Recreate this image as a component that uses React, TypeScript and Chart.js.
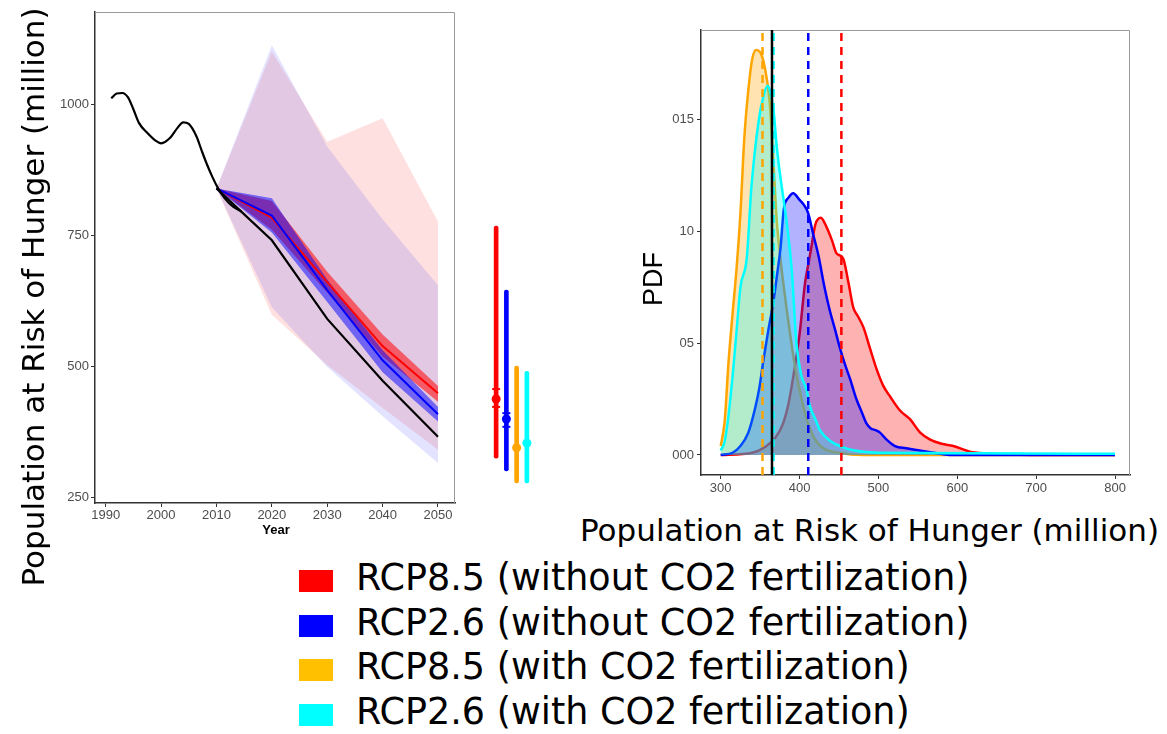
import React, { useEffect, useRef } from "react";
import { Chart, registerables } from "chart.js";

Chart.register(...registerables);

// ---------- Left panel: population at risk of hunger over time ----------
const yearTicks = [1990, 2000, 2010, 2020, 2030, 2040, 2050];
const popTicks = [250, 500, 750, 1000];

const histYears = [1991, 1992, 1993, 1994, 1995, 1996, 1997.5, 1999, 2000, 2001.6, 2003, 2004, 2005, 2006.4, 2007.3, 2008.2, 2009.3, 2010.3, 2011.5, 2013, 2014.5];
const histValues = [1011, 1020, 1021, 1013, 990, 964, 945, 930, 925, 935, 955, 965, 962, 938, 912, 887, 860, 839, 820, 804, 795];

const projYears = [2010, 2020, 2030, 2040, 2050];
const baselineProj = [839, 740, 590, 472, 365];

// wide ranges (all models)
const rcp85WideHi = [839, 1100, 928, 973, 776];
const rcp85WideLo = [839, 598, 502, 420, 340];
const rcp26WideHi = [839, 1112, 919, 780, 654];
const rcp26WideLo = [839, 612, 498, 404, 315];

// narrow ranges and medians
const rcp85Hi = [839, 815, 680, 560, 462];
const rcp85Lo = [839, 760, 640, 518, 432];
const rcp85Mid = [839, 783, 660, 538, 448];
const rcp26Hi = [839, 820, 665, 530, 422];
const rcp26Lo = [839, 755, 622, 488, 394];
const rcp26Mid = [839, 787, 645, 511, 408];

// ---------- 2050 ranges beside the left panel ----------
const errLabels = ["RCP8.5 no CO2", "RCP2.6 no CO2", "RCP8.5 CO2", "RCP2.6 CO2"];
const errRanges: [number, number][] = [[324, 767], [300, 645], [277, 500], [277, 490]];
const errMeans = [437, 399, 344, 353];
const errInnerLo = [422, 384, null, null];
const errInnerHi = [456, 410, null, null];
const errColors = ["#ff0000", "#0000ff", "#ffa500", "#00ffff"];

// ---------- Right panel: PDFs of 2050 population at risk ----------
const pdfXTicks = [300, 400, 500, 600, 700, 800];
const pdfYTicks = [0, 0.005, 0.01, 0.015];
const pdfYTickLabels = ["000", "05", "10", "015"];

const pdfRed: [number, number][] = [
  [300, 0], [340, 0.0001], [358, 0.0004], [370, 0.0008], [379, 0.0014], [386, 0.0023], [392, 0.0035],
  [400, 0.0054], [407, 0.0077], [411, 0.0085], [415, 0.0093], [420, 0.0103], [427, 0.0106], [434, 0.0102],
  [441, 0.0096], [447, 0.009], [455, 0.0088], [462, 0.0077], [468, 0.0066], [474, 0.0062], [481, 0.0057],
  [489, 0.0048], [498, 0.0038], [506, 0.0031], [515, 0.0026], [527, 0.002], [540, 0.0016], [553, 0.001],
  [565, 0.0007], [580, 0.0005], [595, 0.0004], [616, 0.00015], [637, 0.00007], [670, 0.00002], [700, 0], [800, 0],
];
const pdfOrange: [number, number][] = [
  [300, 0.0004], [305, 0.0015], [310, 0.0042], [315, 0.0063], [320, 0.0083], [325, 0.0108], [330, 0.0142],
  [335, 0.0163], [340, 0.0177], [345, 0.0181], [350, 0.018], [356, 0.0173], [362, 0.0158], [367, 0.013],
  [371, 0.0105], [375, 0.009], [380, 0.0075], [388, 0.0054], [394, 0.004], [400, 0.0029], [409, 0.0016],
  [418, 0.0008], [430, 0.0003], [450, 0.0001], [480, 0], [800, 0],
];
const pdfBlue: [number, number][] = [
  [300, 0], [315, 0.0001], [325, 0.0004], [335, 0.001], [343, 0.002], [349, 0.003], [354, 0.0042],
  [360, 0.0055], [367, 0.0069], [372, 0.0082], [376, 0.0093], [380, 0.011], [386, 0.0115], [392, 0.0117],
  [400, 0.0114], [405, 0.0112], [411, 0.0108], [417, 0.0099], [424, 0.0089], [431, 0.0076], [438, 0.0065],
  [445, 0.0056], [451, 0.0048], [458, 0.004], [464, 0.0034], [472, 0.0025], [479, 0.0019], [485, 0.0014],
  [490, 0.0012], [497, 0.0011], [502, 0.001], [510, 0.0007], [521, 0.0004], [535, 0.0003], [552, 0.0002],
  [570, 0.0001], [590, 0], [800, 0],
];
const pdfCyan: [number, number][] = [
  [300, 0.0002], [305, 0.0006], [310, 0.0018], [315, 0.0035], [320, 0.0055], [325, 0.0075], [333, 0.0088],
  [339, 0.012], [348, 0.0149], [354, 0.016], [359.5, 0.0165], [363, 0.0162], [367, 0.0154], [371, 0.0138],
  [375, 0.0126], [384, 0.0103], [390, 0.0083], [396, 0.005], [402, 0.0036], [409, 0.0029], [413, 0.0022],
  [420, 0.0016], [426, 0.0011], [440, 0.0006], [451, 0.0004], [470, 0.0002], [500, 0.0001], [800, 0.00005],
];

const meanRed = 453;
const meanBlue = 411;
const meanOrange = 353;
const meanCyan = 367;
const currentLevel = 365;

const PDF_MIN = -0.000894;
const PDF_MAX = 0.01899;
const POP_MIN = 238.6;
const POP_MAX = 1175.6;

const tickFont = { family: "'Liberation Sans', Arial, sans-serif", size: 13 };
const tickColor = "#4d4d4d";

const zip = (xs: number[], ys: number[]) => xs.map((x, i) => ({ x, y: ys[i] }));
const pairs = (pts: [number, number][]) => pts.map(([x, y]) => ({ x, y }));

// grey panel border on top and right, drawn under the data
const panelFrame = {
  id: "panelFrame",
  beforeDatasetsDraw(chart: any) {
    const { ctx, chartArea: a } = chart;
    ctx.save();
    ctx.strokeStyle = "#9a9a9a";
    ctx.lineWidth = 1;
    ctx.beginPath();
    ctx.moveTo(a.left, a.top + 0.5);
    ctx.lineTo(a.right - 0.5, a.top + 0.5);
    ctx.lineTo(a.right - 0.5, a.bottom);
    ctx.stroke();
    ctx.restore();
  },
};

function band(hi: number[], lo: number[], color: string, order: number) {
  return [
    { data: zip(projYears, hi), borderWidth: 0, backgroundColor: color, fill: "+1", tension: 0, order },
    { data: zip(projYears, lo), borderWidth: 0, fill: false, tension: 0, order },
  ];
}

function line(xs: number[], ys: number[], color: string, width: number, order: number, smooth = false) {
  return {
    data: zip(xs, ys),
    borderColor: color,
    borderWidth: width,
    fill: false,
    ...(smooth ? { cubicInterpolationMode: "monotone" } : { tension: 0 }),
    order,
  };
}

function vline(x: number, color: string, dashed: boolean, order: number) {
  return {
    data: [{ x, y: PDF_MIN }, { x, y: PDF_MAX }],
    borderColor: color,
    borderWidth: 2.5,
    borderDash: dashed ? [8, 6] : [],
    fill: false,
    order,
  };
}

function pdfSeries(pts: [number, number][], lineColor: string, fillColor: string, order: number) {
  return {
    data: pairs(pts),
    borderColor: lineColor,
    backgroundColor: fillColor,
    borderWidth: 2.5,
    fill: "origin",
    cubicInterpolationMode: "monotone",
    order,
  };
}

export default function App() {
  const leftRef = useRef<HTMLCanvasElement>(null);
  const errRef = useRef<HTMLCanvasElement>(null);
  const pdfRef = useRef<HTMLCanvasElement>(null);

  useEffect(() => {
    const common = {
      animation: false,
      responsive: false,
      plugins: { legend: { display: false }, tooltip: { enabled: false } },
      elements: { point: { radius: 0 } },
    };

    const left = new Chart(leftRef.current!, {
      type: "line",
      data: {
        datasets: [
          ...band(rcp85WideHi, rcp85WideLo, "rgba(255,0,0,0.12)", 10),
          ...band(rcp26WideHi, rcp26WideLo, "rgba(0,0,255,0.11)", 9),
          ...band(rcp85Hi, rcp85Lo, "rgba(255,0,0,0.55)", 8),
          ...band(rcp26Hi, rcp26Lo, "rgba(0,0,255,0.5)", 7),
          line(projYears, rcp85Mid, "#ff0000", 2, 6),
          line(projYears, rcp26Mid, "#0000ff", 2, 5),
          line(histYears, histValues, "#000", 2.2, 1, true),
          line(projYears, baselineProj, "#000", 2.2, 1),
        ] as any,
      },
      options: {
        ...common,
        layout: { padding: { top: 12, right: 15, left: 0, bottom: 0 } },
        scales: {
          x: {
            type: "linear",
            min: 1988.07,
            max: 2053.07,
            afterBuildTicks: (s: any) => { s.ticks = yearTicks.map((v) => ({ value: v })); },
            afterFit: (s: any) => { s.height = 47; },
            ticks: { font: tickFont, color: tickColor, padding: 1, maxRotation: 0, autoSkip: false, callback: (v: any) => String(v) },
            grid: { drawOnChartArea: false, tickLength: 4, color: "#333" },
            border: { color: "#333", width: 1.5 },
          },
          y: {
            type: "linear",
            min: POP_MIN,
            max: POP_MAX,
            afterBuildTicks: (s: any) => { s.ticks = popTicks.map((v) => ({ value: v })); },
            afterFit: (s: any) => { s.width = 45; },
            ticks: { font: tickFont, color: tickColor, padding: 2, autoSkip: false, callback: (v: any) => String(v) },
            grid: { drawOnChartArea: false, tickLength: 4, color: "#333" },
            border: { color: "#333", width: 1.5 },
          },
        },
      } as any,
      plugins: [panelFrame],
    });

    const err = new Chart(errRef.current!, {
      type: "bar",
      data: {
        labels: errLabels,
        datasets: [
          { type: "line", data: errMeans, showLine: false, pointRadius: 4.5, pointBackgroundColor: errColors, pointBorderWidth: 0, order: 0 },
          { type: "line", data: errInnerHi, showLine: false, pointStyle: "line", pointRadius: 4, pointBorderColor: errColors, pointBorderWidth: 2, order: 1 },
          { type: "line", data: errInnerLo, showLine: false, pointStyle: "line", pointRadius: 4, pointBorderColor: errColors, pointBorderWidth: 2, order: 1 },
          { type: "bar", data: errRanges, backgroundColor: errColors, barThickness: 4, borderRadius: 2, borderSkipped: false, order: 2 },
        ] as any,
      },
      options: {
        ...common,
        layout: { padding: { top: 12, bottom: 47, left: 0, right: 0 } },
        scales: {
          x: { display: false },
          y: { display: false, min: POP_MIN, max: POP_MAX },
        },
      } as any,
    });

    const pdf = new Chart(pdfRef.current!, {
      type: "line",
      data: {
        datasets: [
          pdfSeries(pdfRed, "#ff0000", "rgba(255,0,0,0.3)", 5),
          pdfSeries(pdfOrange, "#ffa500", "rgba(255,165,0,0.3)", 4),
          pdfSeries(pdfBlue, "#0000ff", "rgba(0,0,255,0.3)", 3),
          pdfSeries(pdfCyan, "#00ffff", "rgba(0,255,255,0.3)", 2),
          vline(meanOrange, "#ffa500", true, 1),
          vline(meanCyan, "#00ffff", true, 1),
          vline(meanBlue, "#0000ff", true, 1),
          vline(meanRed, "#ff0000", true, 1),
          vline(currentLevel, "#000000", false, 0),
        ] as any,
      },
      options: {
        ...common,
        layout: { padding: { top: 30, right: 10, left: 0, bottom: 0 } },
        scales: {
          x: {
            type: "linear",
            min: 275,
            max: 819,
            afterBuildTicks: (s: any) => { s.ticks = pdfXTicks.map((v) => ({ value: v })); },
            afterFit: (s: any) => { s.height = 35; },
            ticks: { font: tickFont, color: tickColor, padding: 2, maxRotation: 0, autoSkip: false, callback: (v: any) => String(v) },
            grid: { drawOnChartArea: false, tickLength: 4, color: "#333" },
            border: { color: "#333", width: 1.5 },
          },
          y: {
            type: "linear",
            min: PDF_MIN,
            max: PDF_MAX,
            afterBuildTicks: (s: any) => { s.ticks = pdfYTicks.map((v) => ({ value: v })); },
            afterFit: (s: any) => { s.width = 71; },
            ticks: {
              font: tickFont,
              color: tickColor,
              padding: 3,
              autoSkip: false,
              callback: (v: any) => pdfYTickLabels[pdfYTicks.indexOf(v)] ?? "",
            },
            grid: { drawOnChartArea: false, tickLength: 4, color: "#333" },
            border: { color: "#333", width: 1.5 },
          },
        },
      } as any,
      plugins: [panelFrame],
    });

    return () => {
      left.destroy();
      err.destroy();
      pdf.destroy();
    };
  }, []);

  const bigFont = "'DejaVu Sans', Verdana, sans-serif";
  const legendRows = [
    { color: "#ff0000", text: "RCP8.5 (without CO2 fertilization)" },
    { color: "#0000ff", text: "RCP2.6 (without CO2 fertilization)" },
    { color: "#ffc000", text: "RCP8.5 (with CO2 fertilization)" },
    { color: "#00ffff", text: "RCP2.6 (with CO2 fertilization)" },
  ];
  const legendSize = 36.5;
  const legendBaselineOffset = (40 - 1.164 * legendSize) / 2 + 0.928 * legendSize;

  return (
    <div style={{ position: "absolute", left: 0, top: 0, width: 1167, height: 734, overflow: "hidden", background: "#fff" }}>
      <canvas ref={leftRef} width={420} height={550} style={{ position: "absolute", left: 50, top: 0, width: 420, height: 550 }} />
      <canvas ref={errRef} width={53} height={550} style={{ position: "absolute", left: 485, top: 0, width: 53, height: 550 }} />
      <canvas ref={pdfRef} width={510} height={510} style={{ position: "absolute", left: 630, top: 0, width: 510, height: 510 }} />

      <div style={{ position: "absolute", left: 32.5 - 310, top: 297 - 20, width: 620, height: 40, lineHeight: "40px", textAlign: "center", fontFamily: bigFont, fontSize: 31, color: "#000", transform: "rotate(-90deg)", whiteSpace: "nowrap" }}>
        Population at Risk of Hunger (million)
      </div>
      <div style={{ position: "absolute", left: 246, top: 520, width: 60, height: 20, lineHeight: "20px", textAlign: "center", fontFamily: "'Liberation Sans', Arial, sans-serif", fontWeight: "bold", fontSize: 13, color: "#000" }}>
        Year
      </div>
      <div style={{ position: "absolute", left: 602.7, top: 259, width: 100, height: 40, lineHeight: "40px", textAlign: "center", fontFamily: "'Liberation Sans', Arial, sans-serif", fontSize: 27, color: "#000", transform: "rotate(-90deg)", whiteSpace: "nowrap" }}>
        PDF
      </div>
      <div style={{ position: "absolute", left: 580, top: 510.3, height: 40, lineHeight: "40px", fontFamily: bigFont, fontSize: 31, color: "#000", whiteSpace: "nowrap" }}>
        Population at Risk of Hunger (million)
      </div>

      {legendRows.map((row, i) => {
        const baseline = 591 + i * 44.5;
        return (
          <React.Fragment key={row.text}>
            <div style={{ position: "absolute", left: 299, top: baseline - 21, width: 34, height: 22, background: row.color }} />
            <div style={{ position: "absolute", left: 356, top: baseline - legendBaselineOffset, height: 40, lineHeight: "40px", fontFamily: bigFont, fontSize: legendSize, color: "#000", whiteSpace: "nowrap" }}>
              {row.text}
            </div>
          </React.Fragment>
        );
      })}
    </div>
  );
}
